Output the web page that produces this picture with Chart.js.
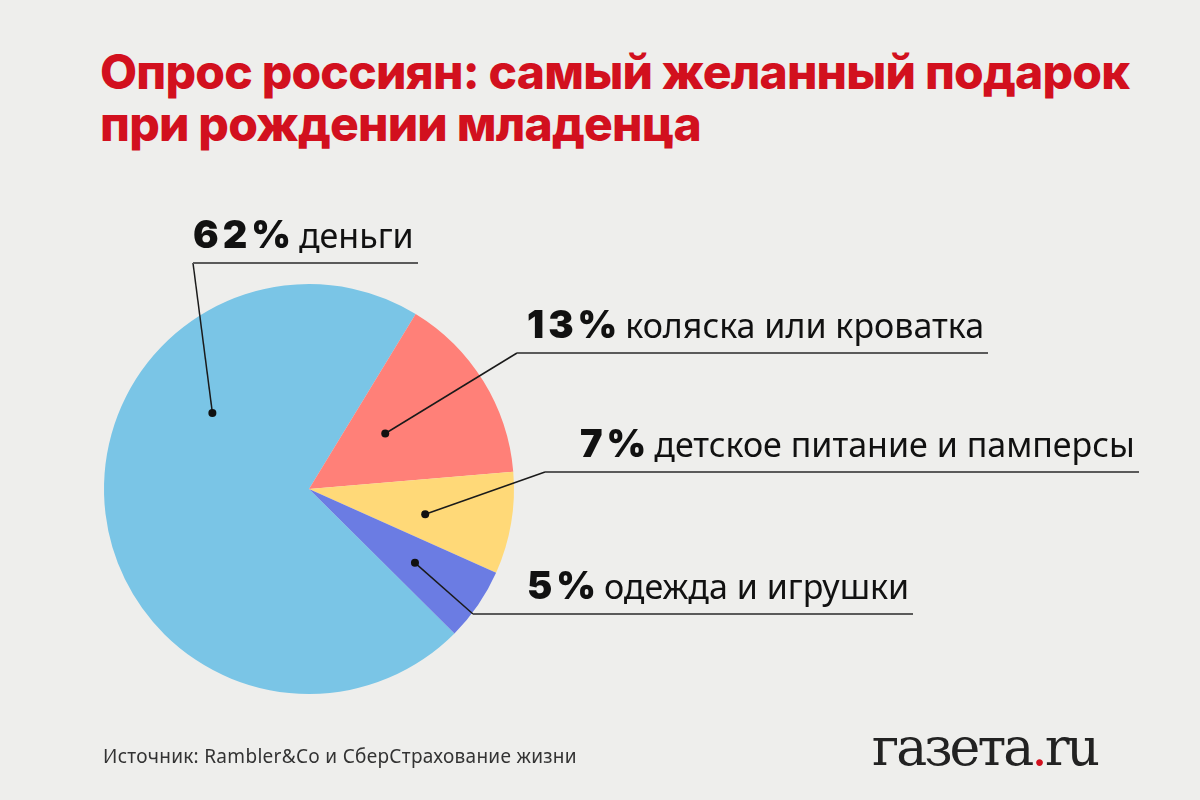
<!DOCTYPE html>
<html lang="ru">
<head>
<meta charset="utf-8">
<title>Опрос россиян: самый желанный подарок при рождении младенца</title>
<script src="https://cdn.jsdelivr.net/npm/chart.js@4"></script>
<style>
    html, body { margin: 0; padding: 0; }
    body {
        width: 1200px; height: 800px; position: relative; overflow: hidden;
        background: #eeeeec;
    }
    #chart { position: absolute; left: 0; top: 0; }
    .title {
        position: absolute; left: 100px; top: 46px;
        font-family: Inter, sans-serif; font-weight: 800; font-size: 48px;
        line-height: 52px; color: #d2101e; letter-spacing: -0.8px;
    }
    .lbl {
        position: absolute; white-space: nowrap;
        border-bottom: 2px solid #5a5a5a;
        padding-bottom: 9px; padding-right: 4px;
        line-height: 1; color: #111;
    }
    .lbl b {
        font-family: Inter, sans-serif; font-weight: 900; font-size: 38px;
        letter-spacing: 4px; margin-right: 4px;
    }
    .lbl span { font-family: "Noto Sans", sans-serif; font-size: 34px; }
    .source {
        position: absolute; left: 103px; top: 747px;
        font-family: "Noto Sans", sans-serif; font-size: 19px; line-height: 1; color: #333;
        letter-spacing: 0.3px;
    }
    .logo {
        position: absolute; left: 872px; top: 721px;
        font-family: "DejaVu Serif", serif; font-size: 52px; line-height: 1;
        color: #222; letter-spacing: -3px;
    }
    .logo i { font-style: normal; color: #d2101e; }
</style>
</head>
<body>
<div class="title">Опрос россиян: самый желанный подарок<br>при рождении младенца</div>
<canvas id="chart" width="1200" height="800"></canvas>
<div id="labels"></div>
<div class="source">Источник: Rambler&amp;Co и СберСтрахование жизни</div>
<div class="logo">газета<i>.</i>ru</div>

<script>
// данные опроса, %
var categories = ["деньги", "коляска или кроватка", "детское питание и памперсы", "одежда и игрушки"];
var values = [62, 13, 7, 5];
var colors = ["#7ac5e6", "#ff8078", "#ffd978", "#6b7ce3"];

// подписи: начало подчёркивания (x, y), отступ текста, точка внутри сектора
var leaders = [
    { x: 193, y: 263, indent: 0,  f: 0.676, r: 0.60 },
    { x: 517, y: 353, indent: 10, f: 0.42,  r: 0.46 },
    { x: 545, y: 472, indent: 35, f: 0.59,  r: 0.58 },
    { x: 473, y: 614, indent: 54, f: 0.52,  r: 0.63 }
];

var labelsBox = document.getElementById("labels");
categories.forEach(function (name, i) {
    var l = leaders[i];
    var div = document.createElement("div");
    div.className = "lbl";
    div.style.left = l.x + "px";
    div.style.bottom = (800 - l.y - 1) + "px";
    div.style.paddingLeft = l.indent + "px";
    div.innerHTML = "<b>" + values[i] + "%</b><span>" + name + "</span>";
    labelsBox.appendChild(div);
});

var leaderLines = {
    id: "leaderLines",
    afterDraw: function (chart) {
        var ctx = chart.ctx;
        chart.getDatasetMeta(0).data.forEach(function (arc, i) {
            var l = leaders[i];
            var a = arc.startAngle + l.f * (arc.endAngle - arc.startAngle);
            var px = arc.x + Math.cos(a) * arc.outerRadius * l.r;
            var py = arc.y + Math.sin(a) * arc.outerRadius * l.r;
            ctx.save();
            ctx.strokeStyle = "#1a1a1a";
            ctx.lineWidth = 1.5;
            ctx.beginPath();
            ctx.moveTo(px, py);
            ctx.lineTo(l.x, l.y);
            ctx.stroke();
            ctx.fillStyle = "#111";
            ctx.beginPath();
            ctx.arc(px, py, 4, 0, Math.PI * 2);
            ctx.fill();
            ctx.restore();
        });
    }
};

new Chart(document.getElementById("chart"), {
    type: "pie",
    data: {
        labels: categories,
        datasets: [{
            data: values,
            backgroundColor: colors,
            borderWidth: 0,
            hoverOffset: 0
        }]
    },
    options: {
        responsive: false,
        animation: false,
        events: [],
        rotation: 134.8,
        layout: { padding: { left: 104, right: 686, top: 284, bottom: 106 } },
        plugins: { legend: { display: false }, tooltip: { enabled: false } }
    },
    plugins: [leaderLines]
});
</script>
</body>
</html>
